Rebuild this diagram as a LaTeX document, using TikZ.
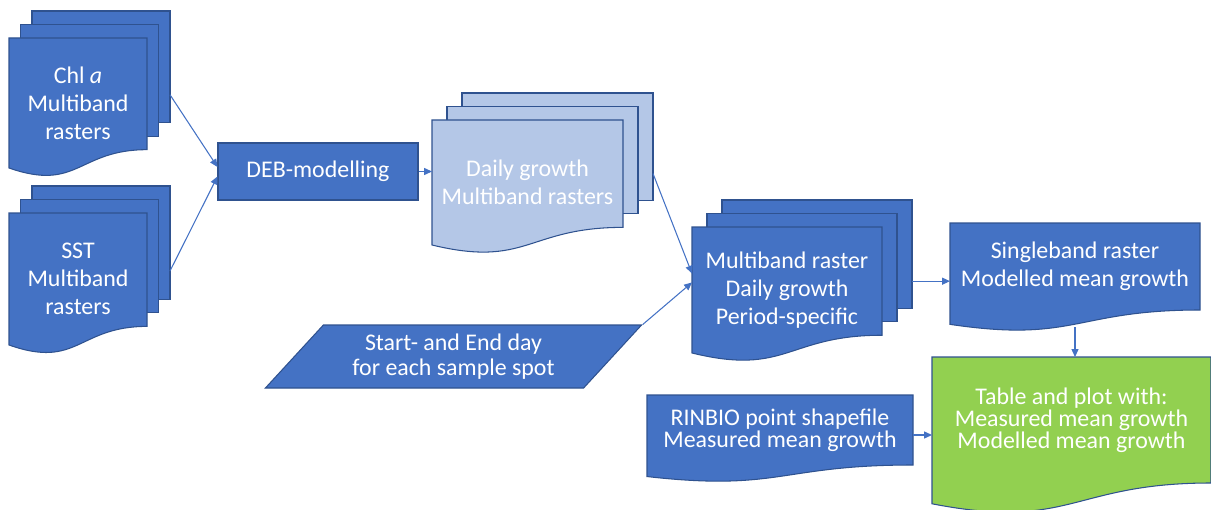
\documentclass[tikz,border=0pt]{standalone}
\usepackage{fontspec}
\setmainfont{Carlito}
\usetikzlibrary{shapes.geometric,calc,arrows.meta}

\definecolor{docblue}{HTML}{4472C4}
\definecolor{docline}{HTML}{2F528F}
\definecolor{paleblue}{HTML}{B4C7E7}
\definecolor{docgreen}{HTML}{92D050}
\newcommand{\px}{0.02cm}

\newcommand{\multidoc}[8]{%
  \pgfmathsetmacro{\pageh}{0.859*#5}
  \foreach \k in {2,1}
    \node[page, fill=#6, minimum width=#4*\px, minimum height=\pageh*\px]
      (#1\k) at (#2+#7*\k, #3-#5/2+\pageh/2-13.5*\k) {};
  \draw[docpath, fill=#6] (#2-#4/2, #3-#5/2) -- (#2+#4/2, #3-#5/2) -- (#2+#4/2, #3-#5/2+\pageh)
    .. controls (#2, #3-#5/2+\pageh) and (#2, #3-#5/2+1.185*#5) .. (#2-#4/2, #3+#5/2) -- cycle;
  \node[doctext, minimum width=#4*\px, minimum height=#5*\px] (#1) at (#2,#3) {#8};
}

\newcommand{\singledoc}[8]{%
  \draw[docpath, fill=#6] (#2-#4/2, #3-#5/2) -- (#2+#4/2, #3-#5/2) -- (#2+#4/2, #3+#5/2)
    .. controls (#2, #3+#5/2) and (#2, #3+#5/2+0.38*#5) .. (#2-#4/2, #3+#5/2+0.165*#5) -- cycle;
  \node[#7, minimum width=#4*\px, minimum height=#5*\px] (#1) at (#2,#3) {#8};
}

\begin{document}
\begin{tikzpicture}[x=\px, y=-\px]
    \tikzstyle{docpath}=[draw=docline, line width=0.6pt]
    \tikzstyle{page}=[rectangle, docpath, inner sep=0pt, outer sep=0pt]
    \tikzstyle{doctext}=[inner sep=0pt, outer sep=0pt, align=center, text=white, font=\fontsize{13.6}{15.9}\selectfont]
    \tikzstyle{doctight}=[doctext, font=\fontsize{13.6}{12.6}\selectfont]
    \tikzstyle{procbox}=[rectangle, fill=docblue, docpath, text=white, font=\fontsize{13.6}{15.9}\selectfont, minimum width=200*\px, minimum height=57*\px, inner sep=0pt]
    \tikzstyle{para}=[trapezium, trapezium left angle=45, trapezium right angle=135, trapezium stretches=true, fill=docblue, docpath, text=white, align=center, font=\fontsize{13.6}{14}\selectfont, inner sep=0pt]
    \tikzstyle{arr}=[-{Triangle[length=4.5pt,width=4pt]}, draw=docblue, line width=0.6pt]
    \useasboundingbox (0,0) rectangle (1211,510);

    \multidoc{chl}{78}{103}{138}{130}{docblue}{11.5}{Chl \textit{a}\\Multiband\\rasters}
    \multidoc{sst}{78}{279}{138}{132}{docblue}{11.5}{SST\\Multiband\\rasters}
    \node[procbox] (deb) at (318,171.5) {DEB-modelling};
    \multidoc{daily}{527.5}{182.5}{191}{125}{paleblue}{15}{Daily growth\\Multiband rasters}
    \multidoc{mb}{787}{290}{190}{126}{docblue}{15}{Multiband raster\\Daily growth\\Period-specific}
    \node[para, minimum width=377*\px, minimum height=63*\px] (start) at (453.5,356.5) {Start- and End day\\for each sample spot};
    \singledoc{sing}{1075}{266.5}{250}{87}{docblue}{doctext}{Singleband raster\\Modelled mean growth}
    \singledoc{table}{1071.5}{420}{279}{126}{docgreen}{doctight}{Table and plot with:\\Measured mean growth\\Modelled mean growth}
    \singledoc{rin}{780}{430}{266}{70}{docblue}{doctight}{RINBIO point shapefile\\Measured mean growth}

    \draw[arr] ($(chl2.north east)!0.75!(chl2.south east)$) -- ([yshift=4.5*\px]deb.west);
    \draw[arr] ($(sst2.north east)!0.75!(sst2.south east)$) -- ([yshift=-5*\px]deb.west);
    \draw[arr] (deb.east) -- (deb.east -| daily.west);
    \draw[arr] ($(daily2.north east)!0.75!(daily2.south east)$) -- ($(mb.north west)!0.37!(mb.south west)$);
    \draw[arr] (start.top right corner) -- ($(mb.north west)!0.44!(mb.south west)$);
    \coordinate (mbout) at ($(mb2.north east)!0.75!(mb2.south east)$);
    \draw[arr] (mbout) -- (mbout -| sing.west);
    \draw[arr] ([yshift=-17*\px]sing.south) -- (sing.south |- table.north);
    \coordinate (rinout) at ([yshift=-5*\px]rin.east);
    \draw[arr] (rinout) -- (rinout -| table.west);
\end{tikzpicture}
\end{document}
